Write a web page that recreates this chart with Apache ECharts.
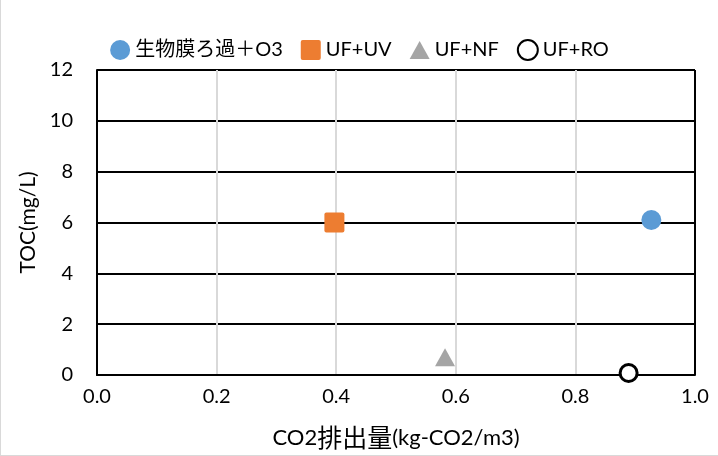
<!DOCTYPE html>
<html><head><meta charset="utf-8">
<script src="https://cdn.jsdelivr.net/npm/echarts@6/dist/echarts.min.js"></script>
<style>html,body{margin:0;padding:0;background:#fff}#c{width:718px;height:456px;box-sizing:border-box;border:1px solid #d9d9d9;border-right:none;border-top:none}</style>
</head><body><div id="c"></div>
<script>
const seriesNames = ['生物膜ろ過＋O3', 'UF+UV', 'UF+NF', 'UF+RO'];
const co2Values = [0.927, 0.397, 0.582, 0.889];
const tocValues = [6.1, 6.0, 0.7, 0.08];
const xTicks = [0, 0.2, 0.4, 0.6, 0.8, 1.0];
const yTicks = [0, 2, 4, 6, 8, 10, 12];
const xTitleParts = ['CO2', '排出量', '(kg-CO2/m3)'];
const yTitle = 'TOC(mg/L)';

const font = 'Lato, "Noto Sans CJK JP", sans-serif';
const cjk = '"Noto Sans CJK JP", sans-serif';
const styles = [
  {symbol: 'circle', symbolSize: 20, itemStyle: {color: '#5b9bd5', opacity: 1}},
  {symbol: 'path://M2,0 L18,0 Q20,0 20,2 L20,18 Q20,20 18,20 L2,20 Q0,20 0,18 L0,2 Q0,0 2,0 Z', symbolSize: 20, itemStyle: {color: '#ed7d31', opacity: 1}},
  {symbol: 'path://M10,0 L20,18 L0,18 Z', symbolSize: [20, 18], itemStyle: {color: '#a5a5a5', opacity: 1}},
  {symbol: 'circle', symbolSize: 17, itemStyle: {color: '#fff', borderColor: '#000', borderWidth: 3, opacity: 1}}
];
const chart = echarts.init(document.getElementById('c'), null, {renderer: 'canvas'});
chart.setOption({
  animation: false,
  textStyle: {fontFamily: font},
  legend: {
    top: 34, left: 'center', itemGap: 18, itemWidth: 20, itemHeight: 20,
    textStyle: {fontSize: 20, color: '#000', fontFamily: font},
    data: seriesNames.map((n, i) => ({name: n}))
  },
  grid: {left: 96, right: 23, top: 70, bottom: 78, containLabel: false},
  xAxis: {
    type: 'value', min: 0, max: 1, interval: 0.2,
    name: '{a|' + xTitleParts[0] + '}{b|' + xTitleParts[1] + '}{a|' + xTitleParts[2] + '}',
    nameLocation: 'middle', nameGap: 50,
    nameTextStyle: {rich: {
      a: {fontSize: 22, color: '#000', fontFamily: font},
      b: {fontSize: 25, color: '#000', fontFamily: cjk}
    }},
    axisLine: {show: true, lineStyle: {color: '#000', width: 2}},
    axisTick: {show: false},
    axisLabel: {fontSize: 20, color: '#000', margin: 12, formatter: v => v.toFixed(1)},
    splitLine: {show: true, lineStyle: {color: '#d9d9d9', width: 2}}
  },
  yAxis: {
    type: 'value', min: 0, max: 12, interval: 2,
    name: yTitle, nameLocation: 'middle', nameGap: 56,
    nameTextStyle: {fontSize: 21, color: '#000', fontFamily: font},
    axisLine: {show: true, lineStyle: {color: '#000', width: 2}},
    axisTick: {show: false},
    axisLabel: {fontSize: 20, color: '#000', margin: 24},
    splitLine: {show: true, lineStyle: {color: '#000', width: 2}}
  },
  series: seriesNames.map((n, i) => Object.assign({
    name: n, type: 'scatter', data: [[co2Values[i], tocValues[i]]], z: 3
  }, styles[i])).concat([{
    type: 'line', data: [[1, 0], [1, 12]], symbol: 'none', silent: true,
    lineStyle: {color: '#000', width: 2}, z: 2, legendHoverLink: false
  }])
});
</script></body></html>
